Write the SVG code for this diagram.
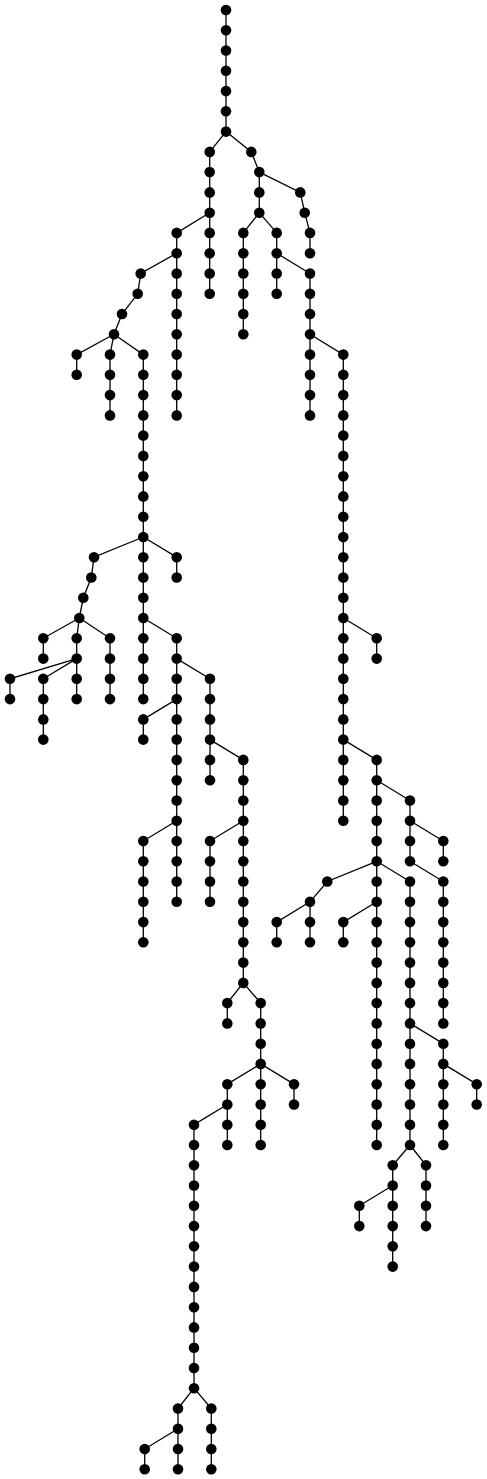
<svg xmlns="http://www.w3.org/2000/svg" width="487" height="1479" viewBox="0 0 487 1479">
<style>
#edges path{fill:none;stroke:#000;stroke-width:1.3}
#nodes circle{fill:#000}
</style>
<rect width="487" height="1479" fill="#fff"/>
<g id="edges">
<path d="M226 10 V131.6"/>
<path d="M226 131.6 L209.7 151.9 V212.7"/>
<path d="M209.7 212.7 L176.7 232.9 V415.4"/>
<path d="M209.7 212.7 V293.8"/>
<path d="M176.7 253.2 L140.7 273.5 L137.7 293.8 L122 314 L114 334.3"/>
<path d="M114 334.3 L76.7 354.6 V374.8"/>
<path d="M114 334.3 L110 354.6 V415.4"/>
<path d="M114 334.3 L143.3 354.6 V699.1"/>
<path d="M143.3 537 L94 557.2 L91.3 577.5 L83.3 597.8 L79.3 618"/>
<path d="M79.3 618 L43.3 638.3 V658.6"/>
<path d="M79.3 618 L76.7 638.3 V699.1"/>
<path d="M76.7 658.6 L10 678.8 V699.1"/>
<path d="M76.7 658.6 L43.3 678.8 V739.6"/>
<path d="M79.3 618 L110 638.3 V699.1"/>
<path d="M143.3 537 L176.7 557.2 V577.5"/>
<path d="M143.3 618 L176.7 638.3 V901.8"/>
<path d="M176.7 658.6 L210 678.8 V780.2"/>
<path d="M210 739.6 L243.3 759.9 V982.9"/>
<path d="M243.3 820.7 L210 841 V901.8"/>
<path d="M243.3 982.9 L227.3 1003.1 V1023.4"/>
<path d="M243.3 982.9 L260.7 1003.1 V1145"/>
<path d="M260.7 1063.9 L294 1084.2 V1104.5"/>
<path d="M260.7 1063.9 L227.3 1084.2 V1145"/>
<path d="M227.3 1104.5 L194 1124.7 V1388.2"/>
<path d="M194 1388.2 L178 1408.5 V1469.3"/>
<path d="M194 1388.2 L211.3 1408.5 V1469.3"/>
<path d="M178 1428.8 L144.7 1449 V1469.3"/>
<path d="M176.7 699.1 L143.3 719.4 V739.6"/>
<path d="M176.7 820.7 L143.3 841 V942.3"/>
<path d="M226 131.6 L251.3 151.9 L259.3 172.1 V212.7"/>
<path d="M259.3 172.1 L300.3 192.4 L304.7 212.7 L310 232.9 V253.2"/>
<path d="M259.3 212.7 L243.3 232.9 V334.3"/>
<path d="M259.3 212.7 L276.7 232.9 V293.8"/>
<path d="M276.7 253.2 L310 273.5 V415.4"/>
<path d="M310 334.3 L343.3 354.6 V820.7"/>
<path d="M343.3 618 L376.7 638.3 V658.6"/>
<path d="M343.3 739.6 L376.7 759.9 V1145"/>
<path d="M376.7 780.2 L410 800.5 V861.3"/>
<path d="M410 820.7 L443.3 841 V861.3"/>
<path d="M410 861.3 L443.3 881.5 V1023.4"/>
<path d="M376.7 861.3 L327.3 881.5 L310 901.8"/>
<path d="M310 901.8 L276.7 922.1 V942.3"/>
<path d="M310 901.8 V942.3"/>
<path d="M376.7 861.3 L410 881.5 V1145"/>
<path d="M376.7 901.8 L343.3 922.1 V942.3"/>
<path d="M410 1023.4 L443.3 1043.7 V1145"/>
<path d="M443.3 1063.9 L476.7 1084.2 V1104.5"/>
<path d="M410 1145 L392.7 1165.3 V1266.6"/>
<path d="M392.7 1185.5 L359.3 1205.8 V1226.1"/>
<path d="M410 1145 L426 1165.3 V1226.1"/>
</g>
<g id="nodes">
<g id="n1"><circle cx="226" cy="10" r="5.3"/></g>
<g id="n2"><circle cx="226" cy="30.3" r="5.3"/></g>
<g id="n3"><circle cx="226" cy="50.5" r="5.3"/></g>
<g id="n4"><circle cx="226" cy="70.8" r="5.3"/></g>
<g id="n5"><circle cx="226" cy="91.1" r="5.3"/></g>
<g id="n6"><circle cx="226" cy="111.3" r="5.3"/></g>
<g id="n7"><circle cx="226" cy="131.6" r="5.3"/></g>
<g id="n8"><circle cx="209.7" cy="151.9" r="5.3"/></g>
<g id="n9"><circle cx="209.7" cy="172.1" r="5.3"/></g>
<g id="n10"><circle cx="209.7" cy="192.4" r="5.3"/></g>
<g id="n11"><circle cx="209.7" cy="212.7" r="5.3"/></g>
<g id="n12"><circle cx="176.7" cy="232.9" r="5.3"/></g>
<g id="n13"><circle cx="176.7" cy="253.2" r="5.3"/></g>
<g id="n14"><circle cx="176.7" cy="273.5" r="5.3"/></g>
<g id="n15"><circle cx="176.7" cy="293.8" r="5.3"/></g>
<g id="n16"><circle cx="176.7" cy="314" r="5.3"/></g>
<g id="n17"><circle cx="176.7" cy="334.3" r="5.3"/></g>
<g id="n18"><circle cx="176.7" cy="354.6" r="5.3"/></g>
<g id="n19"><circle cx="176.7" cy="374.8" r="5.3"/></g>
<g id="n20"><circle cx="176.7" cy="395.1" r="5.3"/></g>
<g id="n21"><circle cx="176.7" cy="415.4" r="5.3"/></g>
<g id="n22"><circle cx="209.7" cy="232.9" r="5.3"/></g>
<g id="n23"><circle cx="209.7" cy="253.2" r="5.3"/></g>
<g id="n24"><circle cx="209.7" cy="273.5" r="5.3"/></g>
<g id="n25"><circle cx="209.7" cy="293.8" r="5.3"/></g>
<g id="n26"><circle cx="140.7" cy="273.5" r="5.3"/></g>
<g id="n27"><circle cx="137.7" cy="293.8" r="5.3"/></g>
<g id="n28"><circle cx="122" cy="314" r="5.3"/></g>
<g id="n29"><circle cx="114" cy="334.3" r="5.3"/></g>
<g id="n30"><circle cx="76.7" cy="354.6" r="5.3"/></g>
<g id="n31"><circle cx="76.7" cy="374.8" r="5.3"/></g>
<g id="n32"><circle cx="110" cy="354.6" r="5.3"/></g>
<g id="n33"><circle cx="110" cy="374.8" r="5.3"/></g>
<g id="n34"><circle cx="110" cy="395.1" r="5.3"/></g>
<g id="n35"><circle cx="110" cy="415.4" r="5.3"/></g>
<g id="n36"><circle cx="143.3" cy="354.6" r="5.3"/></g>
<g id="n37"><circle cx="143.3" cy="374.8" r="5.3"/></g>
<g id="n38"><circle cx="143.3" cy="395.1" r="5.3"/></g>
<g id="n39"><circle cx="143.3" cy="415.4" r="5.3"/></g>
<g id="n40"><circle cx="143.3" cy="435.6" r="5.3"/></g>
<g id="n41"><circle cx="143.3" cy="455.9" r="5.3"/></g>
<g id="n42"><circle cx="143.3" cy="476.2" r="5.3"/></g>
<g id="n43"><circle cx="143.3" cy="496.4" r="5.3"/></g>
<g id="n44"><circle cx="143.3" cy="516.7" r="5.3"/></g>
<g id="n45"><circle cx="143.3" cy="537" r="5.3"/></g>
<g id="n46"><circle cx="143.3" cy="557.2" r="5.3"/></g>
<g id="n47"><circle cx="143.3" cy="577.5" r="5.3"/></g>
<g id="n48"><circle cx="143.3" cy="597.8" r="5.3"/></g>
<g id="n49"><circle cx="143.3" cy="618" r="5.3"/></g>
<g id="n50"><circle cx="143.3" cy="638.3" r="5.3"/></g>
<g id="n51"><circle cx="143.3" cy="658.6" r="5.3"/></g>
<g id="n52"><circle cx="143.3" cy="678.8" r="5.3"/></g>
<g id="n53"><circle cx="143.3" cy="699.1" r="5.3"/></g>
<g id="n54"><circle cx="94" cy="557.2" r="5.3"/></g>
<g id="n55"><circle cx="91.3" cy="577.5" r="5.3"/></g>
<g id="n56"><circle cx="83.3" cy="597.8" r="5.3"/></g>
<g id="n57"><circle cx="79.3" cy="618" r="5.3"/></g>
<g id="n58"><circle cx="43.3" cy="638.3" r="5.3"/></g>
<g id="n59"><circle cx="43.3" cy="658.6" r="5.3"/></g>
<g id="n60"><circle cx="76.7" cy="638.3" r="5.3"/></g>
<g id="n61"><circle cx="76.7" cy="658.6" r="5.3"/></g>
<g id="n62"><circle cx="76.7" cy="678.8" r="5.3"/></g>
<g id="n63"><circle cx="76.7" cy="699.1" r="5.3"/></g>
<g id="n64"><circle cx="10" cy="678.8" r="5.3"/></g>
<g id="n65"><circle cx="10" cy="699.1" r="5.3"/></g>
<g id="n66"><circle cx="43.3" cy="678.8" r="5.3"/></g>
<g id="n67"><circle cx="43.3" cy="699.1" r="5.3"/></g>
<g id="n68"><circle cx="43.3" cy="719.4" r="5.3"/></g>
<g id="n69"><circle cx="43.3" cy="739.6" r="5.3"/></g>
<g id="n70"><circle cx="110" cy="638.3" r="5.3"/></g>
<g id="n71"><circle cx="110" cy="658.6" r="5.3"/></g>
<g id="n72"><circle cx="110" cy="678.8" r="5.3"/></g>
<g id="n73"><circle cx="110" cy="699.1" r="5.3"/></g>
<g id="n74"><circle cx="176.7" cy="557.2" r="5.3"/></g>
<g id="n75"><circle cx="176.7" cy="577.5" r="5.3"/></g>
<g id="n76"><circle cx="176.7" cy="638.3" r="5.3"/></g>
<g id="n77"><circle cx="176.7" cy="658.6" r="5.3"/></g>
<g id="n78"><circle cx="176.7" cy="678.8" r="5.3"/></g>
<g id="n79"><circle cx="176.7" cy="699.1" r="5.3"/></g>
<g id="n80"><circle cx="176.7" cy="719.4" r="5.3"/></g>
<g id="n81"><circle cx="176.7" cy="739.6" r="5.3"/></g>
<g id="n82"><circle cx="176.7" cy="759.9" r="5.3"/></g>
<g id="n83"><circle cx="176.7" cy="780.2" r="5.3"/></g>
<g id="n84"><circle cx="176.7" cy="800.5" r="5.3"/></g>
<g id="n85"><circle cx="176.7" cy="820.7" r="5.3"/></g>
<g id="n86"><circle cx="176.7" cy="841" r="5.3"/></g>
<g id="n87"><circle cx="176.7" cy="861.3" r="5.3"/></g>
<g id="n88"><circle cx="176.7" cy="881.5" r="5.3"/></g>
<g id="n89"><circle cx="176.7" cy="901.8" r="5.3"/></g>
<g id="n90"><circle cx="210" cy="678.8" r="5.3"/></g>
<g id="n91"><circle cx="210" cy="699.1" r="5.3"/></g>
<g id="n92"><circle cx="210" cy="719.4" r="5.3"/></g>
<g id="n93"><circle cx="210" cy="739.6" r="5.3"/></g>
<g id="n94"><circle cx="210" cy="759.9" r="5.3"/></g>
<g id="n95"><circle cx="210" cy="780.2" r="5.3"/></g>
<g id="n96"><circle cx="243.3" cy="759.9" r="5.3"/></g>
<g id="n97"><circle cx="243.3" cy="780.2" r="5.3"/></g>
<g id="n98"><circle cx="243.3" cy="800.5" r="5.3"/></g>
<g id="n99"><circle cx="243.3" cy="820.7" r="5.3"/></g>
<g id="n100"><circle cx="243.3" cy="841" r="5.3"/></g>
<g id="n101"><circle cx="243.3" cy="861.3" r="5.3"/></g>
<g id="n102"><circle cx="243.3" cy="881.5" r="5.3"/></g>
<g id="n103"><circle cx="243.3" cy="901.8" r="5.3"/></g>
<g id="n104"><circle cx="243.3" cy="922.1" r="5.3"/></g>
<g id="n105"><circle cx="243.3" cy="942.3" r="5.3"/></g>
<g id="n106"><circle cx="243.3" cy="962.6" r="5.3"/></g>
<g id="n107"><circle cx="243.3" cy="982.9" r="5.3"/></g>
<g id="n108"><circle cx="210" cy="841" r="5.3"/></g>
<g id="n109"><circle cx="210" cy="861.3" r="5.3"/></g>
<g id="n110"><circle cx="210" cy="881.5" r="5.3"/></g>
<g id="n111"><circle cx="210" cy="901.8" r="5.3"/></g>
<g id="n112"><circle cx="227.3" cy="1003.1" r="5.3"/></g>
<g id="n113"><circle cx="227.3" cy="1023.4" r="5.3"/></g>
<g id="n114"><circle cx="260.7" cy="1003.1" r="5.3"/></g>
<g id="n115"><circle cx="260.7" cy="1023.4" r="5.3"/></g>
<g id="n116"><circle cx="260.7" cy="1043.7" r="5.3"/></g>
<g id="n117"><circle cx="260.7" cy="1063.9" r="5.3"/></g>
<g id="n118"><circle cx="260.7" cy="1084.2" r="5.3"/></g>
<g id="n119"><circle cx="260.7" cy="1104.5" r="5.3"/></g>
<g id="n120"><circle cx="260.7" cy="1124.7" r="5.3"/></g>
<g id="n121"><circle cx="260.7" cy="1145" r="5.3"/></g>
<g id="n122"><circle cx="294" cy="1084.2" r="5.3"/></g>
<g id="n123"><circle cx="294" cy="1104.5" r="5.3"/></g>
<g id="n124"><circle cx="227.3" cy="1084.2" r="5.3"/></g>
<g id="n125"><circle cx="227.3" cy="1104.5" r="5.3"/></g>
<g id="n126"><circle cx="227.3" cy="1124.7" r="5.3"/></g>
<g id="n127"><circle cx="227.3" cy="1145" r="5.3"/></g>
<g id="n128"><circle cx="194" cy="1124.7" r="5.3"/></g>
<g id="n129"><circle cx="194" cy="1145" r="5.3"/></g>
<g id="n130"><circle cx="194" cy="1165.3" r="5.3"/></g>
<g id="n131"><circle cx="194" cy="1185.5" r="5.3"/></g>
<g id="n132"><circle cx="194" cy="1205.8" r="5.3"/></g>
<g id="n133"><circle cx="194" cy="1226.1" r="5.3"/></g>
<g id="n134"><circle cx="194" cy="1246.3" r="5.3"/></g>
<g id="n135"><circle cx="194" cy="1266.6" r="5.3"/></g>
<g id="n136"><circle cx="194" cy="1286.9" r="5.3"/></g>
<g id="n137"><circle cx="194" cy="1307.2" r="5.3"/></g>
<g id="n138"><circle cx="194" cy="1327.4" r="5.3"/></g>
<g id="n139"><circle cx="194" cy="1347.7" r="5.3"/></g>
<g id="n140"><circle cx="194" cy="1368" r="5.3"/></g>
<g id="n141"><circle cx="194" cy="1388.2" r="5.3"/></g>
<g id="n142"><circle cx="178" cy="1408.5" r="5.3"/></g>
<g id="n143"><circle cx="178" cy="1428.8" r="5.3"/></g>
<g id="n144"><circle cx="178" cy="1449" r="5.3"/></g>
<g id="n145"><circle cx="178" cy="1469.3" r="5.3"/></g>
<g id="n146"><circle cx="211.3" cy="1408.5" r="5.3"/></g>
<g id="n147"><circle cx="211.3" cy="1428.8" r="5.3"/></g>
<g id="n148"><circle cx="211.3" cy="1449" r="5.3"/></g>
<g id="n149"><circle cx="211.3" cy="1469.3" r="5.3"/></g>
<g id="n150"><circle cx="144.7" cy="1449" r="5.3"/></g>
<g id="n151"><circle cx="144.7" cy="1469.3" r="5.3"/></g>
<g id="n152"><circle cx="143.3" cy="719.4" r="5.3"/></g>
<g id="n153"><circle cx="143.3" cy="739.6" r="5.3"/></g>
<g id="n154"><circle cx="143.3" cy="841" r="5.3"/></g>
<g id="n155"><circle cx="143.3" cy="861.3" r="5.3"/></g>
<g id="n156"><circle cx="143.3" cy="881.5" r="5.3"/></g>
<g id="n157"><circle cx="143.3" cy="901.8" r="5.3"/></g>
<g id="n158"><circle cx="143.3" cy="922.1" r="5.3"/></g>
<g id="n159"><circle cx="143.3" cy="942.3" r="5.3"/></g>
<g id="n160"><circle cx="251.3" cy="151.9" r="5.3"/></g>
<g id="n161"><circle cx="259.3" cy="172.1" r="5.3"/></g>
<g id="n162"><circle cx="259.3" cy="192.4" r="5.3"/></g>
<g id="n163"><circle cx="259.3" cy="212.7" r="5.3"/></g>
<g id="n164"><circle cx="300.3" cy="192.4" r="5.3"/></g>
<g id="n165"><circle cx="304.7" cy="212.7" r="5.3"/></g>
<g id="n166"><circle cx="310" cy="232.9" r="5.3"/></g>
<g id="n167"><circle cx="310" cy="253.2" r="5.3"/></g>
<g id="n168"><circle cx="243.3" cy="232.9" r="5.3"/></g>
<g id="n169"><circle cx="243.3" cy="253.2" r="5.3"/></g>
<g id="n170"><circle cx="243.3" cy="273.5" r="5.3"/></g>
<g id="n171"><circle cx="243.3" cy="293.8" r="5.3"/></g>
<g id="n172"><circle cx="243.3" cy="314" r="5.3"/></g>
<g id="n173"><circle cx="243.3" cy="334.3" r="5.3"/></g>
<g id="n174"><circle cx="276.7" cy="232.9" r="5.3"/></g>
<g id="n175"><circle cx="276.7" cy="253.2" r="5.3"/></g>
<g id="n176"><circle cx="276.7" cy="273.5" r="5.3"/></g>
<g id="n177"><circle cx="276.7" cy="293.8" r="5.3"/></g>
<g id="n178"><circle cx="310" cy="273.5" r="5.3"/></g>
<g id="n179"><circle cx="310" cy="293.8" r="5.3"/></g>
<g id="n180"><circle cx="310" cy="314" r="5.3"/></g>
<g id="n181"><circle cx="310" cy="334.3" r="5.3"/></g>
<g id="n182"><circle cx="310" cy="354.6" r="5.3"/></g>
<g id="n183"><circle cx="310" cy="374.8" r="5.3"/></g>
<g id="n184"><circle cx="310" cy="395.1" r="5.3"/></g>
<g id="n185"><circle cx="310" cy="415.4" r="5.3"/></g>
<g id="n186"><circle cx="343.3" cy="354.6" r="5.3"/></g>
<g id="n187"><circle cx="343.3" cy="374.8" r="5.3"/></g>
<g id="n188"><circle cx="343.3" cy="395.1" r="5.3"/></g>
<g id="n189"><circle cx="343.3" cy="415.4" r="5.3"/></g>
<g id="n190"><circle cx="343.3" cy="435.6" r="5.3"/></g>
<g id="n191"><circle cx="343.3" cy="455.9" r="5.3"/></g>
<g id="n192"><circle cx="343.3" cy="476.2" r="5.3"/></g>
<g id="n193"><circle cx="343.3" cy="496.4" r="5.3"/></g>
<g id="n194"><circle cx="343.3" cy="516.7" r="5.3"/></g>
<g id="n195"><circle cx="343.3" cy="537" r="5.3"/></g>
<g id="n196"><circle cx="343.3" cy="557.2" r="5.3"/></g>
<g id="n197"><circle cx="343.3" cy="577.5" r="5.3"/></g>
<g id="n198"><circle cx="343.3" cy="597.8" r="5.3"/></g>
<g id="n199"><circle cx="343.3" cy="618" r="5.3"/></g>
<g id="n200"><circle cx="343.3" cy="638.3" r="5.3"/></g>
<g id="n201"><circle cx="343.3" cy="658.6" r="5.3"/></g>
<g id="n202"><circle cx="343.3" cy="678.8" r="5.3"/></g>
<g id="n203"><circle cx="343.3" cy="699.1" r="5.3"/></g>
<g id="n204"><circle cx="343.3" cy="719.4" r="5.3"/></g>
<g id="n205"><circle cx="343.3" cy="739.6" r="5.3"/></g>
<g id="n206"><circle cx="343.3" cy="759.9" r="5.3"/></g>
<g id="n207"><circle cx="343.3" cy="780.2" r="5.3"/></g>
<g id="n208"><circle cx="343.3" cy="800.5" r="5.3"/></g>
<g id="n209"><circle cx="343.3" cy="820.7" r="5.3"/></g>
<g id="n210"><circle cx="376.7" cy="638.3" r="5.3"/></g>
<g id="n211"><circle cx="376.7" cy="658.6" r="5.3"/></g>
<g id="n212"><circle cx="376.7" cy="759.9" r="5.3"/></g>
<g id="n213"><circle cx="376.7" cy="780.2" r="5.3"/></g>
<g id="n214"><circle cx="376.7" cy="800.5" r="5.3"/></g>
<g id="n215"><circle cx="376.7" cy="820.7" r="5.3"/></g>
<g id="n216"><circle cx="376.7" cy="841" r="5.3"/></g>
<g id="n217"><circle cx="376.7" cy="861.3" r="5.3"/></g>
<g id="n218"><circle cx="376.7" cy="881.5" r="5.3"/></g>
<g id="n219"><circle cx="376.7" cy="901.8" r="5.3"/></g>
<g id="n220"><circle cx="376.7" cy="922.1" r="5.3"/></g>
<g id="n221"><circle cx="376.7" cy="942.3" r="5.3"/></g>
<g id="n222"><circle cx="376.7" cy="962.6" r="5.3"/></g>
<g id="n223"><circle cx="376.7" cy="982.9" r="5.3"/></g>
<g id="n224"><circle cx="376.7" cy="1003.1" r="5.3"/></g>
<g id="n225"><circle cx="376.7" cy="1023.4" r="5.3"/></g>
<g id="n226"><circle cx="376.7" cy="1043.7" r="5.3"/></g>
<g id="n227"><circle cx="376.7" cy="1063.9" r="5.3"/></g>
<g id="n228"><circle cx="376.7" cy="1084.2" r="5.3"/></g>
<g id="n229"><circle cx="376.7" cy="1104.5" r="5.3"/></g>
<g id="n230"><circle cx="376.7" cy="1124.7" r="5.3"/></g>
<g id="n231"><circle cx="376.7" cy="1145" r="5.3"/></g>
<g id="n232"><circle cx="410" cy="800.5" r="5.3"/></g>
<g id="n233"><circle cx="410" cy="820.7" r="5.3"/></g>
<g id="n234"><circle cx="410" cy="841" r="5.3"/></g>
<g id="n235"><circle cx="410" cy="861.3" r="5.3"/></g>
<g id="n236"><circle cx="443.3" cy="841" r="5.3"/></g>
<g id="n237"><circle cx="443.3" cy="861.3" r="5.3"/></g>
<g id="n238"><circle cx="443.3" cy="881.5" r="5.3"/></g>
<g id="n239"><circle cx="443.3" cy="901.8" r="5.3"/></g>
<g id="n240"><circle cx="443.3" cy="922.1" r="5.3"/></g>
<g id="n241"><circle cx="443.3" cy="942.3" r="5.3"/></g>
<g id="n242"><circle cx="443.3" cy="962.6" r="5.3"/></g>
<g id="n243"><circle cx="443.3" cy="982.9" r="5.3"/></g>
<g id="n244"><circle cx="443.3" cy="1003.1" r="5.3"/></g>
<g id="n245"><circle cx="443.3" cy="1023.4" r="5.3"/></g>
<g id="n246"><circle cx="327.3" cy="881.5" r="5.3"/></g>
<g id="n247"><circle cx="310" cy="901.8" r="5.3"/></g>
<g id="n248"><circle cx="276.7" cy="922.1" r="5.3"/></g>
<g id="n249"><circle cx="276.7" cy="942.3" r="5.3"/></g>
<g id="n250"><circle cx="310" cy="922.1" r="5.3"/></g>
<g id="n251"><circle cx="310" cy="942.3" r="5.3"/></g>
<g id="n252"><circle cx="410" cy="881.5" r="5.3"/></g>
<g id="n253"><circle cx="410" cy="901.8" r="5.3"/></g>
<g id="n254"><circle cx="410" cy="922.1" r="5.3"/></g>
<g id="n255"><circle cx="410" cy="942.3" r="5.3"/></g>
<g id="n256"><circle cx="410" cy="962.6" r="5.3"/></g>
<g id="n257"><circle cx="410" cy="982.9" r="5.3"/></g>
<g id="n258"><circle cx="410" cy="1003.1" r="5.3"/></g>
<g id="n259"><circle cx="410" cy="1023.4" r="5.3"/></g>
<g id="n260"><circle cx="410" cy="1043.7" r="5.3"/></g>
<g id="n261"><circle cx="410" cy="1063.9" r="5.3"/></g>
<g id="n262"><circle cx="410" cy="1084.2" r="5.3"/></g>
<g id="n263"><circle cx="410" cy="1104.5" r="5.3"/></g>
<g id="n264"><circle cx="410" cy="1124.7" r="5.3"/></g>
<g id="n265"><circle cx="410" cy="1145" r="5.3"/></g>
<g id="n266"><circle cx="343.3" cy="922.1" r="5.3"/></g>
<g id="n267"><circle cx="343.3" cy="942.3" r="5.3"/></g>
<g id="n268"><circle cx="443.3" cy="1043.7" r="5.3"/></g>
<g id="n269"><circle cx="443.3" cy="1063.9" r="5.3"/></g>
<g id="n270"><circle cx="443.3" cy="1084.2" r="5.3"/></g>
<g id="n271"><circle cx="443.3" cy="1104.5" r="5.3"/></g>
<g id="n272"><circle cx="443.3" cy="1124.7" r="5.3"/></g>
<g id="n273"><circle cx="443.3" cy="1145" r="5.3"/></g>
<g id="n274"><circle cx="476.7" cy="1084.2" r="5.3"/></g>
<g id="n275"><circle cx="476.7" cy="1104.5" r="5.3"/></g>
<g id="n276"><circle cx="392.7" cy="1165.3" r="5.3"/></g>
<g id="n277"><circle cx="392.7" cy="1185.5" r="5.3"/></g>
<g id="n278"><circle cx="392.7" cy="1205.8" r="5.3"/></g>
<g id="n279"><circle cx="392.7" cy="1226.1" r="5.3"/></g>
<g id="n280"><circle cx="392.7" cy="1246.3" r="5.3"/></g>
<g id="n281"><circle cx="392.7" cy="1266.6" r="5.3"/></g>
<g id="n282"><circle cx="359.3" cy="1205.8" r="5.3"/></g>
<g id="n283"><circle cx="359.3" cy="1226.1" r="5.3"/></g>
<g id="n284"><circle cx="426" cy="1165.3" r="5.3"/></g>
<g id="n285"><circle cx="426" cy="1185.5" r="5.3"/></g>
<g id="n286"><circle cx="426" cy="1205.8" r="5.3"/></g>
<g id="n287"><circle cx="426" cy="1226.1" r="5.3"/></g>
</g>
</svg>
